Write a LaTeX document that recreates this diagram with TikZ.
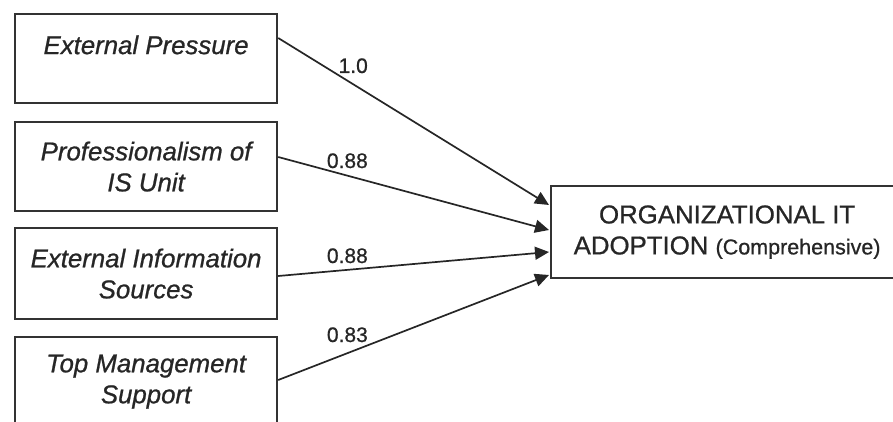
\documentclass[tikz,border=0pt]{standalone}
\usepackage{fontspec}
\setmainfont{Liberation Sans}[FakeBold=0.8]
\usetikzlibrary{arrows.meta}
\begin{document}
\begin{tikzpicture}[x=1pt,y=-1pt,
  box/.style={draw=black!80,line width=2.2pt,inner sep=0pt,minimum width=262pt,
    align=center,font=\fontsize{25.8}{31}\selectfont\itshape,text=black!85},
  bigbox/.style={draw=black!80,line width=2.2pt,inner sep=0pt,minimum width=352pt,
    minimum height=92pt,align=center,font=\fontsize{25.8}{31}\selectfont,text=black!85},
  conn/.style={draw=black!85,line width=1.7pt,-{Triangle[length=14pt,width=13pt]}},
  lbl/.style={font=\fontsize{21}{25}\selectfont,text=black!85,anchor=base east,inner sep=0pt}]
\useasboundingbox (0,0) rectangle (893,422);
\node[box,anchor=north west,text height=40pt,text depth=49pt] (b1) at (14,13) {External Pressure};
\node[box,anchor=north west,minimum height=89pt] (b2) at (14,121) {Professionalism of\\IS Unit};
\node[box,anchor=north west,minimum height=91pt] (b3) at (14,227) {External Information\\Sources};
\node[box,anchor=north west,minimum height=89pt] (b4) at (14,336) {Top Management\\Support};
\node[bigbox,anchor=north west] (t) at (550,185) {ORGANIZATIONAL IT\\ADOPTION {\fontsize{21.5}{31}\selectfont(Comprehensive)}};
\draw[conn] ([yshift=-25pt]b1.north east) -- ([yshift=-20pt,xshift=-1pt]t.north west);
\draw[conn] ([yshift=-36pt]b2.north east) -- ([yshift=-45pt,xshift=-1pt]t.north west);
\draw[conn] ([yshift=-49pt]b3.north east) -- ([yshift=-67pt,xshift=-1pt]t.north west);
\draw[conn] ([yshift=-44pt]b4.north east) -- ([yshift=-90pt,xshift=-1pt]t.north west);
\node[lbl] (l1) at (368,73) {1.0};
\node[lbl] (l2) at (368,168) {0.88};
\node[lbl] (l3) at (368,263) {0.88};
\node[lbl] (l4) at (368,342) {0.83};
\end{tikzpicture}
\end{document}
